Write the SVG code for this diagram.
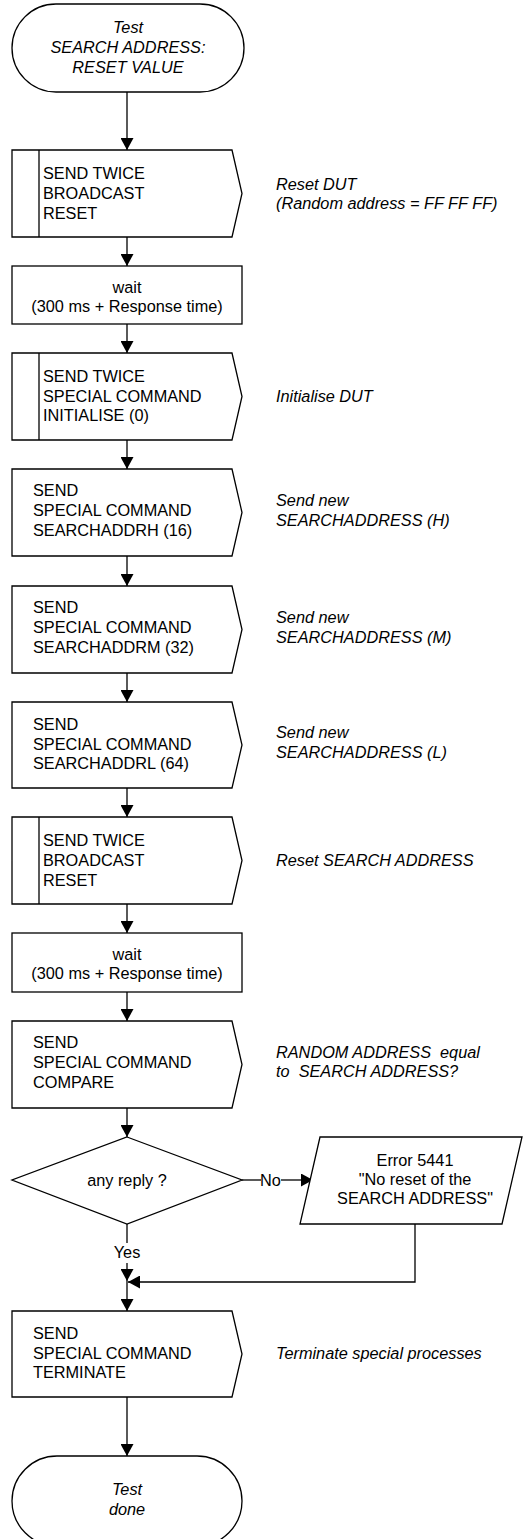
<svg xmlns="http://www.w3.org/2000/svg" width="526" height="1539" viewBox="0 0 526 1539">
<defs>
<marker id="ah" markerUnits="userSpaceOnUse" markerWidth="12" markerHeight="13" refX="12" refY="6.5" orient="auto">
<path d="M0,0 L12,6.5 L0,13 z" fill="#000"/>
</marker>
<style>
.s{fill:#fff;stroke:#000;stroke-width:1.3}
.l{fill:none;stroke:#000;stroke-width:1.3}
text{font-family:"Liberation Sans",Arial,sans-serif;font-size:16.3px;fill:#000}
.c{text-anchor:middle}
.i{font-style:italic}
</style>
</defs>
<rect width="526" height="1539" fill="#fff"/>
<g id="connectors">
<line class="l" x1="127" y1="92" x2="127" y2="150" marker-end="url(#ah)"/>
<line class="l" x1="127" y1="237" x2="127" y2="266" marker-end="url(#ah)"/>
<line class="l" x1="127" y1="324" x2="127" y2="353" marker-end="url(#ah)"/>
<line class="l" x1="127" y1="440" x2="127" y2="469" marker-end="url(#ah)"/>
<line class="l" x1="127" y1="556" x2="127" y2="586" marker-end="url(#ah)"/>
<line class="l" x1="127" y1="673" x2="127" y2="702" marker-end="url(#ah)"/>
<line class="l" x1="127" y1="788" x2="127" y2="817" marker-end="url(#ah)"/>
<line class="l" x1="127" y1="904" x2="127" y2="933" marker-end="url(#ah)"/>
<line class="l" x1="127" y1="992" x2="127" y2="1021" marker-end="url(#ah)"/>
<line class="l" x1="127" y1="1108" x2="127" y2="1137" marker-end="url(#ah)"/>
<line class="l" x1="242" y1="1180" x2="261" y2="1180"/>
<text x="270.5" y="1186" class="c">No</text>
<line class="l" x1="281" y1="1180" x2="313" y2="1180" marker-end="url(#ah)"/>
<line class="l" x1="127" y1="1224" x2="127" y2="1243"/>
<text x="127" y="1258" class="c">Yes</text>
<line class="l" x1="127" y1="1263" x2="127" y2="1281" marker-end="url(#ah)"/>
<polyline class="l" points="415,1224 415,1282 128,1282" marker-end="url(#ah)"/>
<line class="l" x1="127" y1="1281" x2="127" y2="1311" marker-end="url(#ah)"/>
<line class="l" x1="127" y1="1397" x2="127" y2="1456" marker-end="url(#ah)"/>
</g>
<g id="start">
<rect class="s" x="12" y="4" width="232" height="88" rx="44" ry="44"/>
<text class="c i" x="128" y="33">Test</text>
<text class="c i" x="128" y="53">SEARCH ADDRESS:</text>
<text class="c i" x="128" y="73">RESET VALUE</text>
</g>
<g id="reset1">
<path class="s" d="M12,150 H232 L242,193.5 L232,237 H12 Z"/>
<line class="l" x1="39" y1="150" x2="39" y2="237"/>
<text x="43" y="179">SEND TWICE</text>
<text x="43" y="199">BROADCAST</text>
<text x="43" y="219">RESET</text>
<text class="i" x="276" y="190">Reset DUT</text>
<text class="i" x="276" y="209">(Random address = FF FF FF)</text>
</g>
<g id="wait1">
<rect class="s" x="12" y="266" width="230" height="58"/>
<text class="c" x="127" y="293">wait</text>
<text class="c" x="127" y="312">(300 ms + Response time)</text>
</g>
<g id="init">
<path class="s" d="M12,353 H232 L242,396.5 L232,440 H12 Z"/>
<line class="l" x1="39" y1="353" x2="39" y2="440"/>
<text x="43" y="382">SEND TWICE</text>
<text x="43" y="402">SPECIAL COMMAND</text>
<text x="43" y="421">INITIALISE (0)</text>
<text class="i" x="276" y="402">Initialise DUT</text>
</g>
<g id="searchH">
<path class="s" d="M12,469 H232 L242,512.5 L232,556 H12 Z"/>
<text x="33" y="496">SEND</text>
<text x="33" y="516">SPECIAL COMMAND</text>
<text x="33" y="536">SEARCHADDRH (16)</text>
<text class="i" x="276" y="506">Send new</text>
<text class="i" x="276" y="526">SEARCHADDRESS (H)</text>
</g>
<g id="searchM">
<path class="s" d="M12,586 H232 L242,629.5 L232,673 H12 Z"/>
<text x="33" y="613">SEND</text>
<text x="33" y="633">SPECIAL COMMAND</text>
<text x="33" y="653">SEARCHADDRM (32)</text>
<text class="i" x="276" y="623">Send new</text>
<text class="i" x="276" y="643">SEARCHADDRESS (M)</text>
</g>
<g id="searchL">
<path class="s" d="M12,702 H232 L242,745 L232,788 H12 Z"/>
<text x="33" y="730">SEND</text>
<text x="33" y="750">SPECIAL COMMAND</text>
<text x="33" y="769">SEARCHADDRL (64)</text>
<text class="i" x="276" y="738">Send new</text>
<text class="i" x="276" y="758">SEARCHADDRESS (L)</text>
</g>
<g id="reset2">
<path class="s" d="M12,817 H232 L242,860.5 L232,904 H12 Z"/>
<line class="l" x1="39" y1="817" x2="39" y2="904"/>
<text x="43" y="846">SEND TWICE</text>
<text x="43" y="866">BROADCAST</text>
<text x="43" y="886">RESET</text>
<text class="i" x="276" y="866">Reset SEARCH ADDRESS</text>
</g>
<g id="wait2">
<rect class="s" x="12" y="933" width="230" height="59"/>
<text class="c" x="127" y="960">wait</text>
<text class="c" x="127" y="979">(300 ms + Response time)</text>
</g>
<g id="compare">
<path class="s" d="M12,1021 H232 L242,1064.5 L232,1108 H12 Z"/>
<text x="33" y="1048">SEND</text>
<text x="33" y="1068">SPECIAL COMMAND</text>
<text x="33" y="1088">COMPARE</text>
<text class="i" x="276" y="1058" xml:space="preserve">RANDOM ADDRESS  equal</text>
<text class="i" x="276" y="1077" xml:space="preserve">to  SEARCH ADDRESS?</text>
</g>
<g id="decision">
<path class="s" d="M127,1137 L242,1180 L127,1224 L12,1180 Z"/>
<text class="c" x="127" y="1186">any reply ?</text>
</g>
<g id="error">
<path class="s" d="M320,1137 H522 L502,1224 H300 Z"/>
<text class="c" x="415" y="1166">Error 5441</text>
<text class="c" x="415" y="1185">"No reset of the</text>
<text class="c" x="415" y="1204">SEARCH ADDRESS"</text>
</g>
<g id="terminate">
<path class="s" d="M12,1311 H232 L242,1354 L232,1397 H12 Z"/>
<text x="33" y="1339">SEND</text>
<text x="33" y="1359">SPECIAL COMMAND</text>
<text x="33" y="1378">TERMINATE</text>
<text class="i" x="276" y="1359">Terminate special processes</text>
</g>
<g id="end">
<rect class="s" x="12" y="1456" width="230" height="90" rx="45" ry="45"/>
<text class="c i" x="127" y="1495">Test</text>
<text class="c i" x="127" y="1515">done</text>
</g>
</svg>
